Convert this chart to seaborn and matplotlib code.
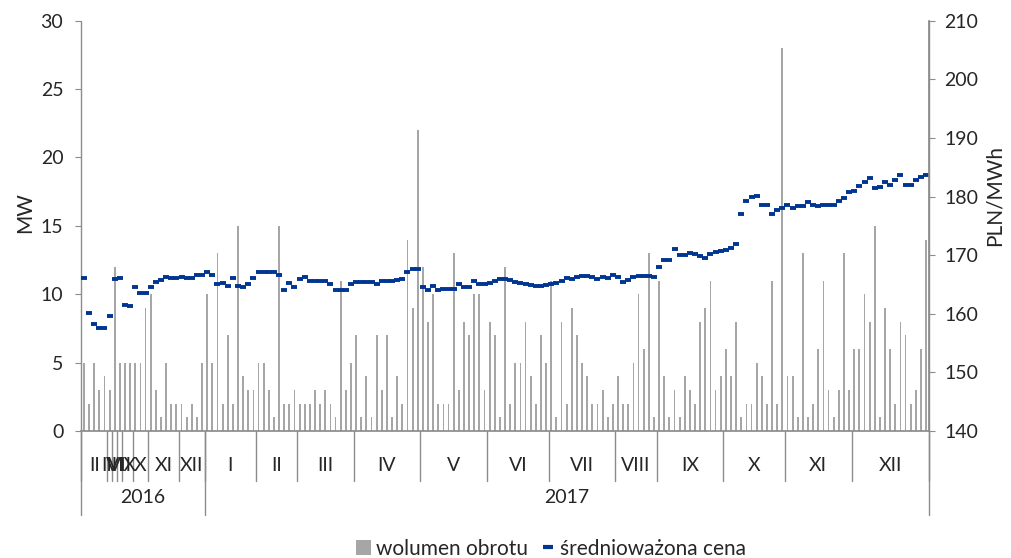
import numpy as np
import pandas as pd
import seaborn as sns
import matplotlib.pyplot as plt
from matplotlib.patches import Patch
from matplotlib.lines import Line2D

# multi-level category axis: months inside years
month_labels = ["II", "III", "VI", "VII", "IX", "X", "XI", "XII",
                "I", "II", "III", "IV", "V", "VI", "VII", "VIII", "IX", "X", "XI", "XII"]
month_counts = [5, 1, 1, 1, 2, 3, 6, 5,
                10, 8, 11, 13, 13, 12, 13, 8, 13, 12, 13, 15]
year_labels = ["2016", "2017"]
year_counts = [24, 141]

# wolumen obrotu [MW]
volume = [5, 2, 5, 3, 4, 3, 12, 5, 5, 5, 5, 5, 9, 10, 3, 1, 5, 2, 2, 2, 1,
          2, 1, 5, 10, 5, 13, 2, 7, 2, 15, 4, 3, 3, 5, 5, 3, 1, 15, 2, 2, 3,
          2, 2, 2, 3, 2, 3, 2, 1, 11, 3, 5, 7, 1, 4, 1, 7, 3, 7, 1, 4,
          2, 14, 9, 22, 12, 8, 10, 2, 2, 2, 13, 3, 8, 7, 10, 10, 3, 8, 7, 1, 12,
          2, 5, 5, 8, 4, 2, 7, 5, 11, 1, 8, 2, 9, 7, 5, 4, 2, 2, 3, 1, 2,
          4, 2, 2, 5, 10, 6, 13, 1, 11, 4, 1, 3, 1, 4, 3, 2, 8, 9, 11, 3, 4,
          6, 4, 8, 1, 2, 2, 5, 4, 2, 11, 2, 28, 4, 4, 1, 13, 1, 2, 6, 11, 3,
          1, 3, 13, 3, 6, 6, 10, 8, 15, 1, 9, 6, 2, 8, 7, 2, 3, 6, 14]

# średnioważona cena [PLN/MWh]
price = [166.1, 160.1, 158.2, 157.6, 157.6, 159.6, 166.0, 166.1, 161.5, 161.3, 164.6,
         163.5, 163.5, 164.5, 165.5, 165.8, 166.2, 166.1, 166.1, 166.3, 166.1,
         166.1, 166.6, 166.6, 167.1, 166.6, 165.0, 165.3, 164.7, 166.1, 164.8,
         164.6, 165.0, 166.1, 167.1, 167.1, 167.1, 167.1, 166.6, 164.0, 165.3,
         164.6, 166.0, 166.3, 165.6, 165.6, 165.6, 165.6, 165.0, 164.0, 164.0,
         164.0, 165.0, 165.5, 165.5, 165.5, 165.5, 165.0, 165.6, 165.6, 165.6,
         165.8, 166.0, 167.1, 167.6, 167.6, 164.5, 164.1, 164.8, 164.0, 164.2,
         164.2, 164.2, 165.0, 164.6, 164.6, 165.6, 165.1, 165.1, 165.3, 165.6,
         166.0, 166.0, 165.7, 165.5, 165.3, 165.0, 164.9, 164.8, 164.8, 164.9,
         165.0, 165.2, 165.6, 166.1, 166.0, 166.2, 166.4, 166.4, 166.2, 166.0,
         166.2, 166.1, 166.6, 166.2, 165.5, 165.8, 166.2, 166.4, 166.4, 166.4,
         166.2, 168.0, 169.1, 169.1, 171.1, 170.1, 170.1, 170.4, 170.2, 169.9,
         169.5, 170.2, 170.6, 170.7, 170.8, 171.2, 171.9, 177.0, 179.2, 180.0,
         180.1, 178.5, 178.5, 177.0, 177.7, 178.0, 178.6, 178.1, 178.3, 178.3,
         179.0, 178.6, 178.4, 178.5, 178.5, 178.5, 179.2, 179.8, 180.7, 181.0,
         181.8, 182.5, 183.2, 181.4, 181.7, 182.4, 182.0, 182.9, 183.6, 182.0,
         182.0, 182.9, 183.4, 183.6]

bar_color = "#A6A6A6"
dot_color = "#003591"
axis_color = "#8C8C8C"

sns.set_theme(style="white")
plt.rcParams["font.family"] = ["Lato", "DejaVu Sans"]
fs = 14

df = pd.DataFrame({"day": np.arange(len(volume)), "volume": volume, "price": price})
n = len(df)

fig, ax = plt.subplots(figsize=(10.11, 5.58), dpi=100)
fig.subplots_adjust(left=0.0805, right=0.9186, top=0.963, bottom=0.2276)
ax2 = ax.twinx()

sns.barplot(data=df, x="day", y="volume", native_scale=True, width=0.35,
            color=bar_color, saturation=1, linewidth=0, errorbar=None, ax=ax)
sns.lineplot(data=df, x="day", y="price", marker="_", linestyle="",
             markersize=5, markeredgewidth=2.8, markeredgecolor=dot_color,
             color=dot_color, errorbar=None, ax=ax2)

ax.set_xlim(-0.5, n - 0.5)
ax.set_ylim(0, 30)
ax.set_yticks(range(0, 31, 5))
ax2.set_ylim(140, 210)
ax2.set_yticks(range(140, 211, 10))

ax.set_xticks(np.arange(-0.5, n, 1))
ax.set_xticklabels([])
ax.tick_params(axis="x", length=5, width=0.8, color=axis_color, direction="out")
ax.tick_params(axis="y", length=4, width=0.8, color=axis_color, pad=9, labelsize=fs)
ax2.tick_params(axis="y", length=4, width=0.8, color=axis_color, pad=7, labelsize=fs)
ax.set_xlabel("")
ax.set_ylabel("")
ax2.set_ylabel("")

for a in (ax, ax2):
    for s in a.spines.values():
        s.set_visible(False)
ax.spines["bottom"].set_visible(True)
ax.spines["bottom"].set_color(axis_color)
ax2.spines["right"].set_visible(True)
ax2.spines["right"].set_color(axis_color)
ax2.spines["right"].set_bounds(140, 210)

# multi-level category labels
trans = ax.get_xaxis_transform()
edges = np.concatenate([[0], np.cumsum(month_counts)]) - 0.5
for lab, a, b in zip(month_labels, edges[:-1], edges[1:]):
    ax.text((a + b) / 2, -0.085, lab, transform=trans, ha="center", va="center",
            fontsize=fs)
for e in edges:
    ax.plot([e, e], [0, -0.122], transform=trans, color=axis_color, lw=1, clip_on=False)

yedges = np.concatenate([[0], np.cumsum(year_counts)]) - 0.5
for lab, a, b in zip(year_labels, yedges[:-1], yedges[1:]):
    ax.text((a + b) / 2, -0.162, lab, transform=trans, ha="center", va="center",
            fontsize=fs)
for e in yedges:
    top = 1 if e in (yedges[0], yedges[-1]) else 0
    ax.plot([e, e], [top, -0.205], transform=trans, color=axis_color, lw=1, clip_on=False)

fig.text(25 / 1011, 1 - 213 / 558, "MW", rotation=90, ha="center", va="center", fontsize=fs + 1)
fig.text(995 / 1011, 1 - 196 / 558, "PLN/MWh", rotation=90, ha="center", va="center", fontsize=fs + 1)

handles = [Patch(facecolor=bar_color, edgecolor="none"),
           Line2D([], [], marker="_", linestyle="", color=dot_color,
                  markersize=7, markeredgewidth=3)]
fig.legend(handles, ["wolumen obrotu", "średnioważona cena"], loc="lower center",
           bbox_to_anchor=(0.545, -0.035), ncol=2, frameon=False, fontsize=15,
           handlelength=0.7, handleheight=0.7, handletextpad=0.25, columnspacing=0.6)

fig.savefig("out.png", dpi=100)
